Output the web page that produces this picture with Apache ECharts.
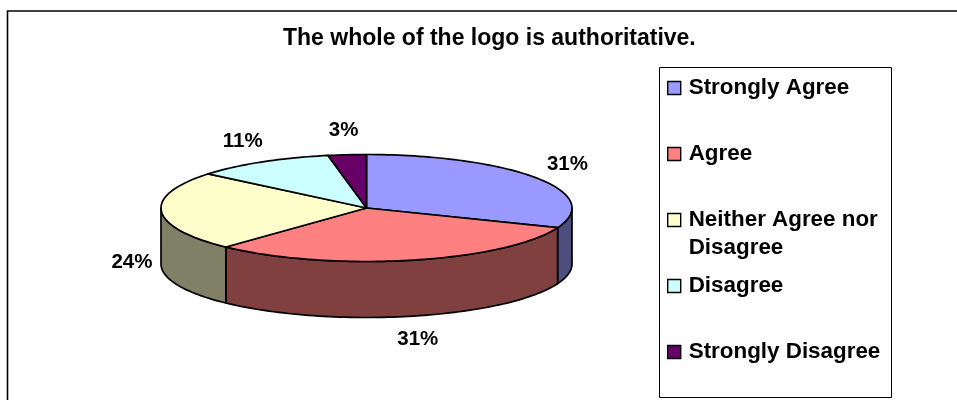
<!DOCTYPE html>
<html>
<head>
<meta charset="utf-8">
<style>html,body{margin:0;padding:0;background:#fff}#chart{width:957px;height:400px}</style>
<script src="https://cdn.jsdelivr.net/npm/echarts@6/dist/echarts.min.js"></script>
</head>
<body>
<div id="chart"></div>
<script>
const titleText = 'The whole of the logo is authoritative.';
const categories = ['Strongly Agree', 'Agree', 'Neither Agree nor Disagree', 'Disagree', 'Strongly Disagree'];
const legendLines = ['Strongly Agree', 'Agree', 'Neither Agree nor\nDisagree', 'Disagree', 'Strongly Disagree'];
const percentages = [31, 31, 24, 11, 3];
const topColors = ['#9999FF', '#FF8080', '#FFFFCC', '#CCFFFF', '#660066'];
const sideColors = ['#4D4D80', '#804040', '#808066', '#668080', '#330033'];

// Tilted disc geometry
const disc = { cx: 366.5, cy: 208, rx: 205.5, ry: 53.5, depth: 56 };
const farLabels = { rx: 243, ry: 78, drop: 0 };
const nearLabels = { rx: 235, ry: 84, drop: 49 };
const total = percentages.reduce((a, b) => a + b, 0);
const OUTLINE = { stroke: '#000', lineWidth: 1.7, lineJoin: 'round' };
const FONT_FAMILY = '"Liberation Sans", Arial, sans-serif';

function ellipsePoint(deg, drop) {
  const t = deg * Math.PI / 180;
  return [disc.cx + disc.rx * Math.sin(t), disc.cy - disc.ry * Math.cos(t) + (drop || 0)];
}

function arcPoints(from, to, drop) {
  const steps = Math.max(2, Math.ceil(Math.abs(to - from) / 1.5));
  const pts = [];
  for (let i = 0; i <= steps; i++) pts.push(ellipsePoint(from + (to - from) * i / steps, drop));
  return pts;
}

function renderSlice(index) {
  return function (params, api) {
    const value = api.value(0);
    const before = percentages.slice(0, index).reduce((a, b) => a + b, 0);
    const start = before / total * 360;
    const end = start + value / total * 360;
    const children = [];

    // Rim wall: only the part of the arc facing the viewer
    const wallFrom = Math.max(start, 90);
    const wallTo = Math.min(end, 270);
    if (wallTo > wallFrom) {
      children.push({
        type: 'polygon',
        z2: 1,
        shape: { points: arcPoints(wallFrom, wallTo, 0).concat(arcPoints(wallTo, wallFrom, disc.depth)) },
        style: Object.assign({ fill: sideColors[index] }, OUTLINE)
      });
    }

    // Top face
    children.push({
      type: 'polygon',
      z2: 2,
      shape: { points: [[disc.cx, disc.cy]].concat(arcPoints(start, end, 0)) },
      style: Object.assign({ fill: topColors[index] }, OUTLINE)
    });

    // Percentage label outside the disc, pushed down past the wall on the near side
    const mid = (start + end) / 2 * Math.PI / 180;
    const cos = Math.cos(mid);
    const place = cos < 0 ? nearLabels : farLabels;
    children.push({
      type: 'text',
      z2: 3,
      style: {
        x: disc.cx + place.rx * Math.sin(mid),
        y: disc.cy - place.ry * cos + place.drop,
        text: value + '%',
        align: 'center',
        verticalAlign: 'middle',
        fill: '#000',
        font: 'bold 20.5px ' + FONT_FAMILY
      }
    });
    return { type: 'group', children };
  };
}

const chart = echarts.init(document.getElementById('chart'), null, { renderer: 'canvas' });
chart.setOption({
  animation: false,
  backgroundColor: '#fff',
  title: {
    text: titleText,
    left: 283,
    top: 27,
    padding: 0,
    textStyle: { fontFamily: FONT_FAMILY, fontWeight: 'bold', fontSize: 23, color: '#000' }
  },
  legend: {
    orient: 'vertical',
    left: 667,
    top: 46,
    padding: 0,
    itemGap: -18,
    itemWidth: 13,
    itemHeight: 13,
    icon: 'rect',
    selectedMode: false,
    data: categories,
    // Blank first line keeps the symbol level with the first line of text
    formatter: name => {
      const text = legendLines[categories.indexOf(name)];
      return '\n' + text + (text.includes('\n') ? '' : '\n ');
    },
    textStyle: {
      fontFamily: FONT_FAMILY,
      fontWeight: 'bold',
      fontSize: 22.4,
      lineHeight: 28,
      padding: [0, 0, 0, 3],
      color: '#000'
    },
    itemStyle: { borderColor: '#000', borderWidth: 1.4 }
  },
  graphic: [
    { type: 'polyline', silent: true, shape: { points: [[7.5, 400], [7.5, 11], [957, 11]] }, style: { stroke: '#000', lineWidth: 1.6, fill: 'none' } },
    { type: 'rect', silent: true, z: -1, shape: { x: 659.5, y: 67.5, width: 232, height: 330 }, style: { fill: '#fff', stroke: '#000', lineWidth: 1 } }
  ],
  series: categories.map((name, i) => ({
    type: 'custom',
    name,
    coordinateSystem: 'none',
    color: topColors[i],
    itemStyle: { color: topColors[i] },
    renderItem: renderSlice(i),
    silent: true,
    data: [[percentages[i]]]
  }))
});
</script>
</body>
</html>
